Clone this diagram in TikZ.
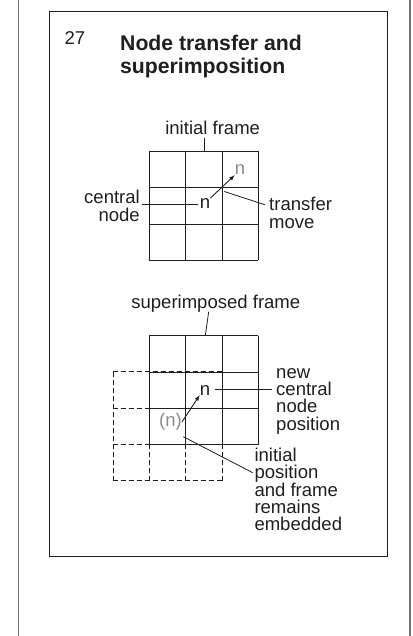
\documentclass[tikz,border=0pt]{standalone}
\usepackage{fontspec}
\setmainfont{Liberation Sans}
\usetikzlibrary{positioning}
\definecolor{FrameGray}{rgb}{.45,.45,.45}
\definecolor{NodeGray}{rgb}{.55,.55,.55}
\definecolor{InkDark}{rgb}{.12,.12,.12}
\newcommand{\cellsize}{36.33}

\begin{document}
\begin{tikzpicture}[x=1bp, y=-1bp,
		every node/.style={inner sep=0pt, font=\fontsize{18.6}{17.4}\selectfont, text=InkDark},
		gridline/.style={line width=0.9bp, draw=InkDark},
		dashline/.style={line width=0.9bp, draw=InkDark, dash pattern=on 5bp off 3bp},
		leader/.style={line width=0.8bp, draw=InkDark},
		move/.style={->, >=latex, line width=0.9bp, draw=InkDark},
		heading/.style={font=\fontsize{21.3}{24}\selectfont\bfseries, align=left, anchor=base west},
		label/.style={align=left, anchor=base west}
		]
		\useasboundingbox (0,0) rectangle (412,636);
		\draw[FrameGray, line width=1.3bp] (18.3,0) -- (18.3,636) (410,0) -- (410,636);
		\draw[InkDark, line width=1bp] (49,11.3) rectangle (387.3,556.7);

		% title (base = last line)
		\node[label] (num) at (64.3,44.3) {27};
		\node[heading] (ttl) at (120,74) {Node transfer and\\superimposition};

		% initial frame
		\foreach \i in {0,...,3} {
			\draw[gridline] (149.3+\i*\cellsize,151.3) -- ++(0,3*\cellsize);
			\draw[gridline] (149.3,151.3+\i*\cellsize) -- ++(3*\cellsize,0);
		}
		\node[anchor=base] (ifr) at (212.7,135) {initial frame};
		\coordinate (ift) at (204.3,151.3);
		\draw[leader, shorten >=2.5bp] (ift) -- (ift |- ifr.south);

		\node[anchor=base] (cn) at (205,208.3) {n};
		\node[anchor=base, text=NodeGray] (gn) at (240,175) {n};
		\draw[move] (cn.north east) -- (gn.south west);

		\node[align=right, anchor=base east] (cnl) at (140,221) {central\\node};
		\coordinate (cns) at (141.5,204.3);
		\draw[leader, shorten >=2bp] (cns) -- (cns -| cn.west);

		\node[label] (tml) at (269,228) {transfer\\move};
		\coordinate (tms) at (224.3,191.5);
		\coordinate (tme) at (265,204.8);
		\draw[leader] (tms) -- (tme);

		% superimposed frame
		\foreach \i in {0,...,3} {
			\draw[dashline] (113+\i*\cellsize,371.7) -- ++(0,3*\cellsize);
			\draw[dashline] (113,371.7+\i*\cellsize) -- ++(3*\cellsize,0);
		}
		\foreach \i in {0,...,3} {
			\draw[gridline] (149.3+\i*\cellsize,335.7) -- ++(0,3*\cellsize);
			\draw[gridline] (149.3,335.7+\i*\cellsize) -- ++(3*\cellsize,0);
		}
		\node[anchor=base] (sfr) at (215.8,308) {superimposed frame};
		\coordinate (sft) at (205.3,335.7);
		\coordinate (sfb) at (208.7,311.7);
		\draw[leader] (sft) -- (sfb);

		\node[anchor=base] (nn) at (205,395) {n};
		\node[anchor=base, text=NodeGray] (pn) at (170.5,426.7) {(n)};
		\draw[move] (pn.east) -- (nn.south west);

		\node[label] (ncl) at (276,430.2) {new\\central\\node\\position};
		\coordinate (ncs) at (215,389);
		\coordinate (nce) at (272.3,389);
		\draw[leader] (ncs) -- (nce);

		\node[label] (ipl) at (254.3,530.9) {initial\\position\\and frame\\remains\\embedded};
		\coordinate (ips) at (183.3,436.7);
		\coordinate (ipe) at (252.7,472.7);
		\draw[leader] (ips) -- (ipe);
	\end{tikzpicture}
\end{document}
